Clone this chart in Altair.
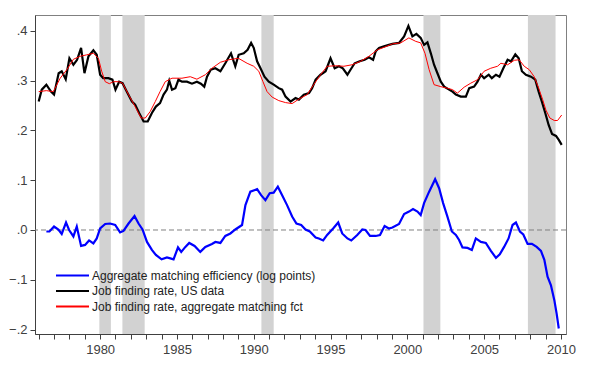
import altair as alt
import pandas as pd

# Job finding rate, US data (black)
black_x = [1976.0,1976.2,1976.5,1976.8,1977.0,1977.3,1977.5,1977.76,1978.0,1978.26,1978.5,1978.76,1978.98,1979.24,1979.56,1979.78,
           1980.0,1980.2,1980.54,1980.8,1981.0,1981.24,1981.46,1981.74,1982.07,1982.28,1982.54,1982.83,1983.1,1983.37,1983.63,1983.9,
           1984.13,1984.35,1984.5,1984.68,1984.9,1985.1,1985.33,1985.65,1985.98,1986.3,1986.56,1986.78,1986.96,1987.2,1987.5,1987.83,
           1988.15,1988.52,1988.8,1989.02,1989.35,1989.6,1989.83,1990.0,1990.22,1990.44,1990.7,1990.98,1991.3,1991.63,1991.85,1992.07,
           1992.4,1992.72,1992.94,1993.26,1993.6,1993.8,1994.03,1994.35,1994.68,1995.0,1995.27,1995.55,1995.8,1996.1,1996.3,1996.57,
           1996.9,1997.22,1997.5,1997.77,1997.94,1998.16,1998.48,1998.8,1999.03,1999.46,1999.79,2000.07,2000.33,2000.59,2000.87,2001.09,
           2001.31,2001.53,2001.74,2001.96,2002.18,2002.4,2002.72,2002.94,2003.16,2003.48,2003.81,2004.03,2004.35,2004.57,2004.79,2005.0,
           2005.3,2005.5,2005.77,2006.0,2006.25,2006.53,2006.75,2007.03,2007.25,2007.46,2007.72,2008.05,2008.33,2008.55,2008.76,2008.98,
           2009.2,2009.42,2009.68,2009.86,2010.05]
black_y = [0.258,0.282,0.292,0.278,0.272,0.315,0.319,0.303,0.345,0.332,0.342,0.366,0.315,0.349,0.361,0.352,
           0.312,0.305,0.305,0.302,0.282,0.298,0.295,0.278,0.258,0.252,0.235,0.218,0.218,0.235,0.248,0.255,
           0.272,0.282,0.300,0.282,0.285,0.302,0.298,0.298,0.294,0.298,0.294,0.288,0.308,0.322,0.325,0.319,
           0.335,0.355,0.329,0.352,0.355,0.362,0.376,0.366,0.339,0.325,0.308,0.298,0.292,0.285,0.282,0.268,
           0.258,0.265,0.262,0.272,0.275,0.285,0.302,0.312,0.319,0.345,0.325,0.329,0.325,0.312,0.322,0.335,
           0.339,0.342,0.347,0.342,0.359,0.366,0.369,0.372,0.374,0.376,0.389,0.410,0.389,0.394,0.386,0.372,
           0.377,0.355,0.332,0.315,0.298,0.288,0.282,0.278,0.272,0.268,0.268,0.285,0.288,0.298,0.312,0.305,
           0.312,0.305,0.312,0.308,0.325,0.342,0.339,0.353,0.345,0.319,0.312,0.308,0.302,0.278,0.258,0.235,
           0.211,0.193,0.189,0.181,0.171]

# Job finding rate, aggregate matching fct (red)
red_x = [1976.0,1976.5,1976.95,1977.4,1977.83,1978.26,1978.7,1979.13,1979.56,1979.89,1980.1,1980.33,1980.6,1980.87,1981.2,1981.46,
         1981.85,1982.28,1982.67,1982.94,1983.26,1983.59,1983.9,1984.24,1984.68,1985.33,1985.87,1986.3,1986.85,1987.28,1987.83,1988.37,
         1989.0,1989.57,1990.0,1990.33,1990.6,1990.87,1991.2,1991.63,1992.07,1992.5,1992.94,1993.48,1993.9,1994.35,1994.78,1995.33,
         1995.87,1996.4,1996.96,1997.5,1998.05,1998.48,1999.03,1999.57,2000.1,2000.55,2000.87,2001.15,2001.42,2001.74,2002.18,2002.6,
         2002.94,2003.26,2003.7,2004.13,2004.57,2005.0,2005.43,2005.87,2006.09,2006.53,2006.96,2007.28,2007.61,2007.94,2008.26,2008.55,
         2008.81,2009.02,2009.28,2009.57,2009.78,2010.05]
red_y = [0.278,0.280,0.278,0.305,0.322,0.343,0.349,0.352,0.355,0.345,0.319,0.298,0.294,0.298,0.298,0.295,
         0.272,0.248,0.225,0.225,0.238,0.258,0.278,0.298,0.305,0.305,0.308,0.303,0.312,0.325,0.337,0.342,
         0.345,0.335,0.329,0.319,0.298,0.278,0.267,0.260,0.256,0.254,0.263,0.272,0.292,0.312,0.329,0.330,
         0.329,0.332,0.339,0.349,0.362,0.367,0.374,0.376,0.386,0.379,0.376,0.355,0.322,0.292,0.288,0.285,
         0.282,0.275,0.287,0.295,0.302,0.319,0.325,0.329,0.335,0.332,0.341,0.342,0.329,0.322,0.308,0.285,
         0.262,0.241,0.225,0.220,0.220,0.231]

# Aggregate matching efficiency (blue)
blue_x = [1976.5,1976.7,1977.0,1977.28,1977.5,1977.78,1977.98,1978.26,1978.48,1978.76,1979.02,1979.28,1979.56,1979.78,1980.0,1980.33,
          1980.65,1980.98,1981.3,1981.52,1981.85,1982.24,1982.5,1982.76,1983.05,1983.37,1983.63,1984.0,1984.35,1984.57,1984.78,1985.07,
          1985.28,1985.55,1985.8,1986.15,1986.52,1986.85,1987.28,1987.5,1987.83,1988.15,1988.48,1988.8,1989.24,1989.46,1989.78,1990.22,
          1990.48,1990.76,1991.04,1991.3,1991.57,1991.85,1992.17,1992.5,1992.78,1993.09,1993.37,1993.65,1994.03,1994.24,1994.52,1994.78,
          1995.17,1995.5,1995.76,1996.1,1996.35,1996.74,1997.07,1997.28,1997.57,1997.94,1998.22,1998.52,1998.8,1999.03,1999.46,1999.79,
          2000.11,2000.37,2000.66,2000.87,2001.09,2001.42,2001.81,2002.07,2002.33,2002.61,2002.9,2003.16,2003.37,2003.59,2003.92,2004.2,
          2004.46,2004.79,2005.11,2005.44,2005.77,2006.02,2006.3,2006.59,2006.85,2007.07,2007.33,2007.55,2007.83,2008.11,2008.42,2008.7,
          2008.92,2009.13,2009.35,2009.57,2009.72,2009.86]
blue_y = [-0.003,-0.003,0.007,0.001,-0.008,0.015,0.000,-0.013,0.007,-0.032,-0.030,-0.021,-0.027,-0.017,0.003,0.012,
          0.013,0.010,-0.005,-0.002,0.013,0.028,0.013,0.001,-0.024,-0.040,-0.050,-0.059,-0.055,-0.057,-0.059,-0.035,
          -0.044,-0.034,-0.026,-0.032,-0.044,-0.034,-0.028,-0.024,-0.026,-0.012,-0.007,0.001,0.010,0.050,0.077,0.082,
          0.070,0.060,0.074,0.075,0.087,0.070,0.050,0.027,0.013,0.010,0.001,-0.003,-0.015,-0.017,-0.021,-0.010,
          0.003,0.015,-0.007,-0.017,-0.021,-0.010,0.001,0.000,-0.012,-0.012,-0.010,0.008,0.003,0.005,0.012,0.032,
          0.037,0.042,0.037,0.030,0.054,0.077,0.102,0.084,0.054,0.027,-0.003,-0.010,-0.020,-0.035,-0.036,-0.040,
          -0.017,-0.024,-0.026,-0.042,-0.056,-0.049,-0.034,-0.017,0.010,0.015,-0.003,-0.009,-0.028,-0.028,-0.034,-0.042,
          -0.060,-0.094,-0.111,-0.141,-0.168,-0.198]

# Recession periods
rec_start = [1979.95, 1981.45, 1990.5, 2001.05, 2007.85]
rec_end = [1980.7, 1982.9, 1991.3, 2002.15, 2009.65]

names = ["Aggregate matching efficiency (log points)",
         "Job finding rate, US data",
         "Job finding rate, aggregate matching fct"]
colors = ["#0000ff", "#000000", "#ff0000"]

x_ticks = list(range(1976, 2011))
y_ticks = [-0.2, -0.1, 0.0, 0.1, 0.2, 0.3, 0.4]

df_blue = pd.DataFrame({"year": blue_x, "value": blue_y, "series": names[0]})
df_black = pd.DataFrame({"year": black_x, "value": black_y, "series": names[1]})
df_red = pd.DataFrame({"year": red_x, "value": red_y, "series": names[2]})
df_rec = pd.DataFrame({"start": rec_start, "end": rec_end})
df_zero = pd.DataFrame({"value": [0.0]})

xscale = alt.Scale(domain=[1975.76, 2010.33], nice=False, zero=False)
yscale = alt.Scale(domain=[-0.209, 0.432], nice=False, zero=False)

color = alt.Color("series:N",
                  scale=alt.Scale(domain=names, range=colors),
                  legend=alt.Legend(title=None, orient="none", legendX=31, legendY=254,
                                    symbolType="M-3,0H3", symbolSize=121, symbolStrokeWidth=2,
                                    labelFont="Liberation Sans", labelFontSize=12, labelColor="#222",
                                    labelOffset=13, labelLimit=400, rowPadding=2.5, padding=0))

xaxis = alt.Axis(values=x_ticks, title=None,
                 labelExpr="datum.value % 5 == 0 ? format(datum.value, 'd') : ''",
                 labelFont="Liberation Sans", labelFontSize=13, labelColor="#404040",
                 tickColor="#404040", domainColor="#404040", tickSize=5, grid=False, labelPadding=4)
yaxis = alt.Axis(values=y_ticks, title=None,
                 labelExpr="replace(format(datum.value, '.1f'), '0.', '.')",
                 labelFont="Liberation Sans", labelFontSize=13, labelColor="#404040",
                 tickColor="#404040", domainColor="#404040", tickSize=5, grid=False, labelPadding=3)

bands = alt.Chart(df_rec).mark_rect(color="#d2d2d2").encode(
    x=alt.X("start:Q", scale=xscale, axis=xaxis),
    x2="end:Q",
)

zero = alt.Chart(df_zero).mark_rule(color="#808080", strokeDash=[5, 3], strokeWidth=1).encode(
    y=alt.Y("value:Q", scale=yscale, axis=yaxis)
)

def line(df, width):
    return alt.Chart(df).mark_line(strokeWidth=width).encode(
        x=alt.X("year:Q", scale=xscale, axis=xaxis),
        y=alt.Y("value:Q", scale=yscale, axis=yaxis),
        color=color,
    )

chart = alt.layer(
    bands, zero, line(df_black, 2.2), line(df_red, 1), line(df_blue, 2.2)
).properties(
    width=531, height=319,
    padding={"left": 27, "top": 7, "right": 26, "bottom": 28},
    autosize=alt.AutoSizeParams(type="none"),
).configure_view(stroke="#808080", strokeWidth=1)

chart.save("out.html", embed_options={"renderer": "svg", "actions": False})
